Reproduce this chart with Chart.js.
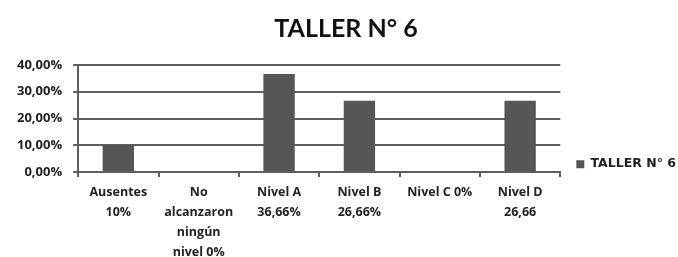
<!DOCTYPE html>
<html>
<head>
<meta charset="utf-8">
<script src="https://cdn.jsdelivr.net/npm/chart.js@4/dist/chart.umd.min.js"></script>
<style>
  html, body { margin: 0; padding: 0; background: #fff; }
</style>
</head>
<body>
<canvas id="chart" width="678" height="257"></canvas>
<script>
const categories = [
  ["Ausentes", "10%"],
  ["No", "alcanzaron", "ningún", "nivel 0%"],
  ["Nivel A", "36,66%"],
  ["Nivel B", "26,66%"],
  ["Nivel C 0%"],
  ["Nivel D", "26,66"]
];
const values = [10, 0, 36.66, 26.66, 0, 26.66];
const seriesName = "TALLER N° 6";
const titleText = "TALLER N° 6";

const titleFont = "Lato, 'Open Sans', sans-serif";
const tickFont = "'Open Sans', sans-serif";
const legendFont = "'DejaVu Sans', sans-serif";
const ctx = document.getElementById("chart").getContext("2d");

new Chart(ctx, {
  type: "bar",
  data: {
    labels: categories,
    datasets: [
      {
        label: seriesName,
        data: values,
        backgroundColor: "#565656",
        borderWidth: 0,
        barPercentage: 0.39,
        categoryPercentage: 1
      }
    ]
  },
  options: {
    responsive: false,
    animation: false,
    layout: { padding: { left: 6, right: -8, top: 4, bottom: -11 } },
    plugins: {
      title: {
        display: true,
        text: titleText,
        color: "#111",
        font: { family: titleFont, size: 25, weight: "bold" },
        padding: { top: 10, bottom: 21 }
      },
      legend: {
        position: "right",
        title: { display: true, text: " ", padding: { top: 0, bottom: 42 } },
        labels: {
          color: "#222",
          font: { family: legendFont, size: 12.5, weight: "bold" },
          boxWidth: 8,
          boxHeight: 8,
          padding: 16
        }
      },
      tooltip: { enabled: false }
    },
    scales: {
      y: {
        min: 0,
        max: 40,
        ticks: {
          stepSize: 10,
          color: "#222",
          font: { family: tickFont, size: 13, weight: "bold" },
          padding: 11,
          callback: (v) => v.toFixed(2).replace(".", ",") + "%"
        },
        grid: { color: "#5e5e5e", lineWidth: 2, tickLength: 5 },
        border: { color: "#5e5e5e", width: 2 }
      },
      x: {
        ticks: {
          color: "#222",
          font: { family: tickFont, size: 12.5, weight: "bold", lineHeight: 1.58 },
          maxRotation: 0,
          autoSkip: false,
          padding: 6
        },
        grid: { drawOnChartArea: false, color: "#5e5e5e", lineWidth: 2, tickLength: 5 },
        border: { color: "#5e5e5e", width: 2 }
      }
    }
  }
});
</script>
</body>
</html>
